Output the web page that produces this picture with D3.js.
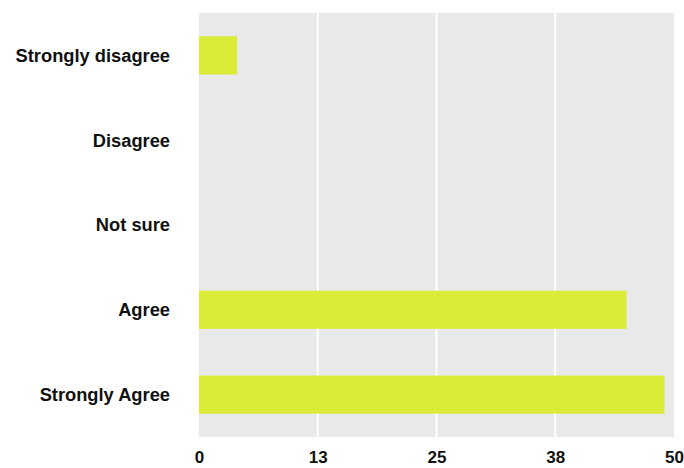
<!DOCTYPE html>
<html>
<head>
<meta charset="utf-8">
<script src="https://cdn.jsdelivr.net/npm/d3@7"></script>
<style>
  html, body { margin: 0; padding: 0; background: #ffffff; }
  svg { display: block; }
  text { font-family: "Liberation Sans", Arial, Helvetica, sans-serif; font-weight: bold; fill: #111; }
</style>
</head>
<body>
<svg id="chart" width="684" height="468"></svg>
<script>
// Survey responses
const categories = ["Strongly disagree", "Disagree", "Not sure", "Agree", "Strongly Agree"];
const values = [4, 0, 0, 45, 49];
const tickValues = [0, 12.5, 25, 37.5, 50];
const tickLabels = ["0", "13", "25", "38", "50"];

const margin = { top: 13, right: 10, bottom: 31, left: 199 };
const width = 684, height = 468;

const svg = d3.select("#chart");

const x = d3.scaleLinear()
  .domain([0, 50])
  .range([margin.left, width - margin.right]);

const y = d3.scaleBand()
  .domain(categories)
  .range([margin.top, height - margin.bottom])
  .paddingInner(0.55)
  .paddingOuter(0.275);

// panel background
svg.append("rect")
  .attr("x", margin.left)
  .attr("y", margin.top)
  .attr("width", x(50) - x(0))
  .attr("height", (height - margin.bottom) - margin.top)
  .attr("fill", "#e9e9e9");

// vertical grid lines
svg.append("g")
  .selectAll("line")
  .data(tickValues.slice(1, -1))
  .join("line")
  .attr("x1", d => x(d))
  .attr("x2", d => x(d))
  .attr("y1", margin.top)
  .attr("y2", height - margin.bottom)
  .attr("stroke", "#ffffff")
  .attr("stroke-width", 2);

// bars
svg.append("g")
  .selectAll("rect")
  .data(categories.map((c, i) => ({ c, v: values[i] })))
  .join("rect")
  .attr("x", x(0))
  .attr("y", d => y(d.c))
  .attr("width", d => x(d.v) - x(0))
  .attr("height", y.bandwidth())
  .attr("fill", "#dbeb38");

// category axis
const yAxis = svg.append("g")
  .attr("transform", `translate(${margin.left},0)`)
  .call(d3.axisLeft(y).tickSize(0).tickPadding(29));
yAxis.select(".domain").remove();
yAxis.selectAll("text")
  .attr("font-size", 18.3)
  .attr("dy", "0.35em")
  .attr("font-family", null)
  .attr("fill", null);

// value axis
const xAxis = svg.append("g")
  .attr("transform", `translate(0,${height - margin.bottom})`)
  .call(d3.axisBottom(x).tickValues(tickValues).tickFormat((d, i) => tickLabels[i]).tickSize(0).tickPadding(14));
xAxis.select(".domain").remove();
xAxis.selectAll("text")
  .attr("font-size", 17)
  .attr("font-family", null)
  .attr("fill", null);
</script>
</body>
</html>
